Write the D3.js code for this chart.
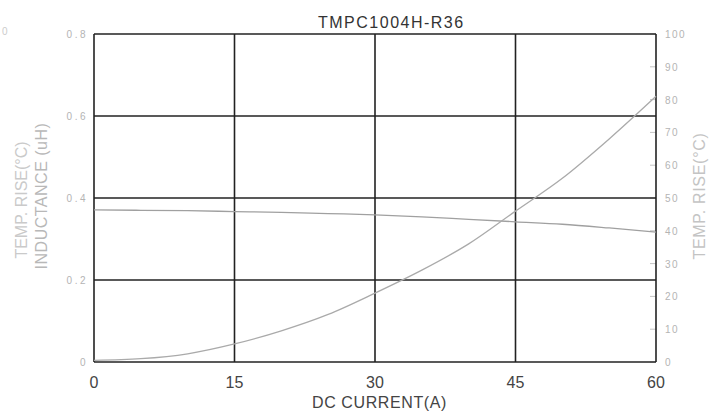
<!DOCTYPE html>
<html>
<head>
<meta charset="utf-8">
<script src="https://cdn.jsdelivr.net/npm/d3@7"></script>
<style>
  body { margin: 0; background: #fff; }
  svg { font-family: "Liberation Sans", Arial, sans-serif; }
</style>
</head>
<body>
<svg id="chart" width="715" height="413"></svg>
<script>
// current (A) sample points
const current = [0, 5, 10, 15, 20, 25, 30, 35, 40, 45, 50, 55, 60];
// inductance (uH), left axis
const inductance = [0.371, 0.370, 0.369, 0.367, 0.365, 0.362, 0.359, 0.354, 0.348, 0.342, 0.336, 0.327, 0.317];
// temperature rise (°C), right axis
const tempRise = [0.5, 1, 2.5, 5.5, 9.5, 14.5, 21, 28, 36, 46, 56, 68, 81];

const xTicks = [0, 15, 30, 45, 60];
const leftTicks = [0, 0.2, 0.4, 0.6, 0.8];
const rightTicks = [0, 10, 20, 30, 40, 50, 60, 70, 80, 90, 100];

const svg = d3.select("#chart");
const plotL = 94, plotR = 656, plotT = 34, plotB = 362;

const x = d3.scaleLinear().domain([0, 60]).range([plotL, plotR]);
const yL = d3.scaleLinear().domain([0, 0.8]).range([plotB, plotT]);
const yR = d3.scaleLinear().domain([0, 100]).range([plotB, plotT]);

// small ticks on right axis
svg.append("g")
  .selectAll("line")
  .data(rightTicks)
  .enter().append("line")
  .attr("x1", plotR - 6).attr("x2", plotR)
  .attr("y1", d => yR(d)).attr("y2", d => yR(d))
  .attr("stroke", "#c4c4c4").attr("stroke-width", 1);

// grid
const grid = svg.append("g").attr("stroke", "#222").attr("stroke-width", 1.6);
grid.selectAll(".v")
  .data(xTicks)
  .enter().append("line")
  .attr("x1", d => x(d)).attr("x2", d => x(d))
  .attr("y1", plotT).attr("y2", plotB);
grid.selectAll(".h")
  .data(leftTicks)
  .enter().append("line")
  .attr("x1", plotL).attr("x2", plotR)
  .attr("y1", d => yL(d)).attr("y2", d => yL(d));

// curves
const lineL = d3.line().x((d, i) => x(current[i])).y(d => yL(d)).curve(d3.curveMonotoneX);
const lineR = d3.line().x((d, i) => x(current[i])).y(d => yR(d)).curve(d3.curveMonotoneX);

svg.append("path").datum(inductance)
  .attr("d", lineL).attr("fill", "none")
  .attr("stroke", "#a0a0a0").attr("stroke-width", 1.3);
svg.append("path").datum(tempRise)
  .attr("d", lineR).attr("fill", "none")
  .attr("stroke", "#aaa").attr("stroke-width", 1.3);

// left tick labels
svg.append("g")
  .selectAll("text")
  .data(leftTicks)
  .enter().append("text")
  .attr("x", plotL - 6).attr("y", d => yL(d) + 4)
  .attr("text-anchor", "end")
  .attr("fill", "#b4b4b4").style("font-size", "10px")
  .style("letter-spacing", "2.5px")
  .text(d => d === 0 ? "0" : d.toFixed(1));

// right tick labels
svg.append("g")
  .selectAll("text")
  .data(rightTicks)
  .enter().append("text")
  .attr("x", plotR + 9).attr("y", d => yR(d) + 4)
  .attr("fill", "#b4b4b4").style("font-size", "10px")
  .style("letter-spacing", "1.5px")
  .text(d => d);

// x tick labels
svg.append("g")
  .selectAll("text")
  .data(xTicks)
  .enter().append("text")
  .attr("x", d => x(d)).attr("y", 388)
  .attr("text-anchor", "middle")
  .attr("fill", "#444").style("font-size", "16px")
  .text(d => d);

// titles
svg.append("text")
  .attr("x", 318).attr("y", 28)
  .attr("fill", "#333").style("font-size", "16px")
  .style("letter-spacing", "1.5px")
  .text("TMPC1004H-R36");

svg.append("text")
  .attr("x", 312).attr("y", 408)
  .attr("fill", "#444").style("font-size", "16px")
  .style("letter-spacing", "0.6px")
  .text("DC CURRENT(A)");

svg.append("text")
  .attr("transform", "translate(27,200) rotate(-90)")
  .attr("text-anchor", "middle")
  .attr("fill", "#cacaca").style("font-size", "16px")
  .text("TEMP. RISE(°C)");

svg.append("text")
  .attr("transform", "translate(47,196) rotate(-90)")
  .attr("text-anchor", "middle")
  .attr("fill", "#b8b8b8").style("font-size", "16px")
  .style("letter-spacing", "0.5px")
  .text("INDUCTANCE (uH)");

svg.append("text")
  .attr("transform", "translate(705,196) rotate(-90)")
  .attr("text-anchor", "middle")
  .attr("fill", "#c4c4c4").style("font-size", "16px")
  .style("letter-spacing", "0.7px")
  .text("TEMP. RISE(°C)");

// stray mark in the top-left corner of the scan
svg.append("text")
  .attr("x", 2).attr("y", 35)
  .attr("fill", "#ccc").style("font-size", "10px")
  .text("0");
</script>
</body>
</html>
